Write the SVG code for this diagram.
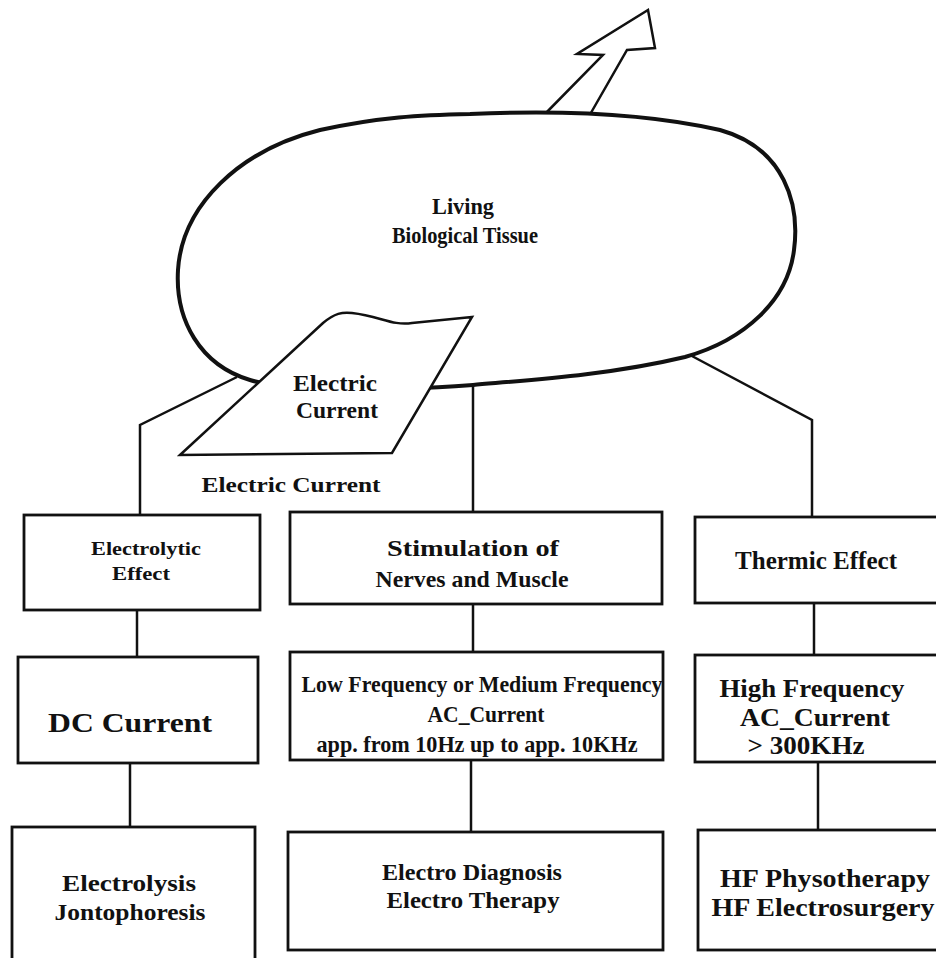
<svg xmlns="http://www.w3.org/2000/svg" width="936" height="958" viewBox="0 0 936 958">
<style>
.box{fill:#fff;stroke:#111;stroke-width:2.8}
.ln{fill:none;stroke:#111;stroke-width:2.5}
text{font-family:"Liberation Serif","Times New Roman",serif;fill:#111;text-anchor:middle;font-weight:bold}
</style>
<rect width="936" height="958" fill="#fff"/>
<g id="connectors">
<path class="ln" d="M237,377 L140,425 L140,515"/>
<path class="ln" d="M473,385 L473,512"/>
<path class="ln" d="M690,355 L812,420 L812,517"/>
<path class="ln" d="M137,610 L137,657"/>
<path class="ln" d="M473,605 L473,652"/>
<path class="ln" d="M814,603 L814,655"/>
<path class="ln" d="M130,763 L130,827"/>
<path class="ln" d="M471,760 L471,832"/>
<path class="ln" d="M818,762 L818,830"/>
</g>
<g id="arrow">
<path class="ln" fill="#fff" d="M542,117 L603,55 L577,54 L648,10 L655,48 L627,50 L588,118"/>
</g>
<g id="tissue">
<path d="M470,114 C560,110 650,114 720,130 C785,148 800,205 794,250 C788,300 745,340 685,357 C610,375 530,380 473,385 C400,390 300,395 250,380 C200,365 175,320 178,270 C182,205 240,150 320,130 C380,117 420,115 470,114 Z" fill="#fff" stroke="#111" stroke-width="4"/>
<text x="463" y="214" font-size="23" textLength="62" lengthAdjust="spacingAndGlyphs">Living</text>
<text x="465" y="243" font-size="23" textLength="146" lengthAdjust="spacingAndGlyphs">Biological Tissue</text>
</g>
<g id="electric-current">
<path d="M180,455 L323,323 C335,313 342,312 352,313 C380,316 392,326 412,323 L472,317 L392,453 Z" fill="#fff" stroke="#111" stroke-width="2.5"/>
<text x="335" y="391" font-size="23" textLength="84" lengthAdjust="spacingAndGlyphs">Electric</text>
<text x="337" y="418" font-size="23" textLength="82" lengthAdjust="spacingAndGlyphs">Current</text>
<text x="291" y="492" font-size="22" textLength="179" lengthAdjust="spacingAndGlyphs">Electric Current</text>
</g>
<g id="electrolytic">
<rect class="box" x="24" y="515" width="236" height="95"/>
<text x="146" y="555" font-size="18" textLength="110" lengthAdjust="spacingAndGlyphs">Electrolytic</text>
<text x="141" y="580" font-size="18" textLength="58" lengthAdjust="spacingAndGlyphs">Effect</text>
</g>
<g id="stimulation">
<rect class="box" x="290" y="512" width="372" height="92"/>
<text x="473" y="556" font-size="24" textLength="172" lengthAdjust="spacingAndGlyphs">Stimulation of</text>
<text x="472" y="587" font-size="24" textLength="193" lengthAdjust="spacingAndGlyphs">Nerves and Muscle</text>
</g>
<g id="thermic">
<rect class="box" x="695" y="517" width="245" height="86"/>
<text x="816" y="569" font-size="25" textLength="162" lengthAdjust="spacingAndGlyphs">Thermic Effect</text>
</g>
<g id="dc">
<rect class="box" x="18" y="657" width="240" height="106"/>
<text x="130" y="732" font-size="27" textLength="164" lengthAdjust="spacingAndGlyphs">DC Current</text>
</g>
<g id="lfmf">
<rect class="box" x="290" y="652" width="373" height="108"/>
<text x="482" y="692" font-size="23" textLength="361" lengthAdjust="spacingAndGlyphs">Low Frequency or Medium Frequency</text>
<text x="486" y="722" font-size="23" textLength="117" lengthAdjust="spacingAndGlyphs">AC_Current</text>
<text x="477" y="752" font-size="23" textLength="321" lengthAdjust="spacingAndGlyphs">app. from 10Hz up to app. 10KHz</text>
</g>
<g id="hf">
<rect class="box" x="695" y="655" width="245" height="107"/>
<text x="812" y="697" font-size="25" textLength="185" lengthAdjust="spacingAndGlyphs">High Frequency</text>
<text x="815" y="726" font-size="25" textLength="150" lengthAdjust="spacingAndGlyphs">AC_Current</text>
<text x="806" y="754" font-size="25" textLength="117" lengthAdjust="spacingAndGlyphs">&gt; 300KHz</text>
</g>
<g id="electrolysis">
<rect class="box" x="12" y="827" width="243" height="135"/>
<text x="129" y="891" font-size="24" textLength="134" lengthAdjust="spacingAndGlyphs">Electrolysis</text>
<text x="130" y="920" font-size="24" textLength="151" lengthAdjust="spacingAndGlyphs">Jontophoresis</text>
</g>
<g id="diagnosis">
<rect class="box" x="288" y="832" width="375" height="118"/>
<text x="472" y="880" font-size="24" textLength="180" lengthAdjust="spacingAndGlyphs">Electro Diagnosis</text>
<text x="473" y="908" font-size="24" textLength="173" lengthAdjust="spacingAndGlyphs">Electro Therapy</text>
</g>
<g id="hfapps">
<rect class="box" x="698" y="830" width="242" height="120"/>
<text x="825" y="887" font-size="25" textLength="210" lengthAdjust="spacingAndGlyphs">HF Physotherapy</text>
<text x="823" y="916" font-size="25" textLength="223" lengthAdjust="spacingAndGlyphs">HF Electrosurgery</text>
</g>
</svg>
